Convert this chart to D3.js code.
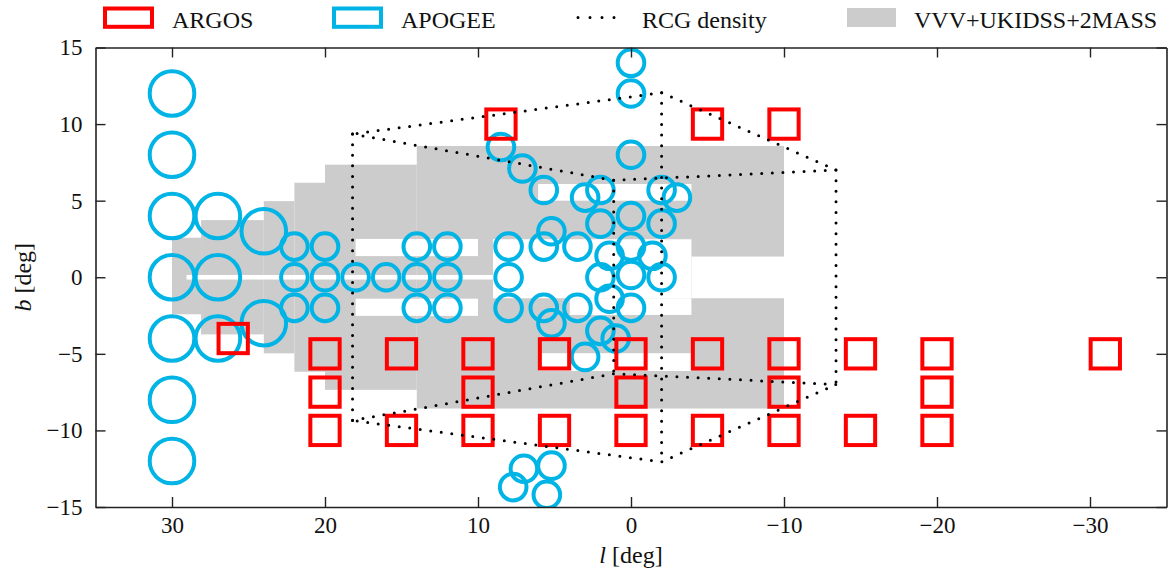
<!DOCTYPE html>
<html>
<head>
<meta charset="utf-8">
<script src="https://cdn.jsdelivr.net/npm/d3@7"></script>
<style>
  body { margin: 0; background: #fff; }
  svg { display: block; }
  text { font-family: "Liberation Serif", "Times New Roman", serif; fill: #111; }
</style>
</head>
<body>
<svg id="chart" width="1172" height="579"></svg>
<script>
// ---- Survey footprints in Galactic coordinates (l, b) in degrees ----

// ARGOS spectroscopic fields
const argosFields = [
  [8.5, 10], [-5, 10], [-10, 10],
  [26, -4],
  [20, -5], [15, -5], [10, -5], [5, -5], [0, -5], [-5, -5], [-10, -5], [-15, -5], [-20, -5], [-31, -5],
  [20, -7.5], [10, -7.5], [0, -7.5], [-10, -7.5], [-20, -7.5],
  [20, -10], [15, -10], [10, -10], [5, -10], [0, -10], [-5, -10], [-10, -10], [-15, -10], [-20, -10]
];

// APOGEE wide fields (outer disc)
const apogeeWideFields = [
  [30, 12], [30, 8], [30, 4], [30, 0], [30, -4], [30, -8], [30, -12],
  [27, 4], [27, 0], [27, -4],
  [24, 3], [24, -3]
];

// APOGEE bulge fields
const apogeeFields = [
  [22, 2], [22, 0], [22, -2], [20, 2], [20, 0], [20, -2], [18, 0], [16, 0],
  [14, 2], [14, 0], [14, -2], [12, 2], [12, 0], [12, -2],
  [8, 2], [8, 0], [8, -2],
  [8.5, 8.5], [7.1, 7.1], [5.7, 5.7],
  [5.7, 2], [5.7, -2], [5.2, 3], [5.2, -3], [3.5, 2], [3.5, -2],
  [3, 5.2], [3, -5.2], [2, 5.7], [2, 3.5], [2, 0], [2, -3.5],
  [1.4, 1.4], [1.4, -1.4], [1, -4],
  [0, 14], [0, 12], [0, 8], [0, 4], [0, 2], [0, 0.15], [0, -2],
  [-2, 5.7], [-3, 5.2], [-2, 3.5], [-1.4, 1.4], [-2, 0],
  [7, -12.5], [5.2, -12.3], [7.7, -13.7], [5.5, -14.2]
];

// Photometric coverage (VVV+UKIDSS+2MASS): [lFrom, lTo, bMin, bMax]
const coverageBlocks = [
  [30, 28.1, -2.42, 2.58],
  [28.1, 24, -3.73, 3.73],
  [24, 22, -4.97, 4.97],
  [22, 20, -6.17, 6.17],
  [20, 14, -7.35, 7.35],
  [14, -10, -8.57, 8.57]
];

// Areas inside the coverage without usable data: [lFrom, lTo, bMin, bMax]
const coverageGaps = [
  [29.05, 9.02, -0.15, 0.15],
  [18, 10, 1.38, 2.5],
  [18, 10, -2.52, -1.4],
  [9.02, -3.95, -1.37, 2.48],
  [4, -3.95, -2.46, -1.37],
  [-3.95, -10, -1.37, 1.35],
  [6.07, -3.95, 5.0, 6.09],
  [6.07, -3.95, -6.12, -4.96]
];

// Projected outline of the red-clump-giant density (bar) box
const rcgTopFace = [[18.2, 9.35], [1.13, 6.33], [-13.4, 7.0], [-2, 12.05]];
const rcgBottomFace = [[18.2, -9.35], [1.13, -6.3], [-13.4, -7.0], [-2, -12.05]];

// Axis ticks
const lTicks = [30, 20, 10, 0, -10, -20, -30];
const bTicks = [15, 10, 5, 0, -5, -10, -15];

// Legend entries
const legendItems = [
  { label: "ARGOS", kind: "argos" },
  { label: "APOGEE", kind: "apogee" },
  { label: "RCG density", kind: "rcg" },
  { label: "VVV+UKIDSS+2MASS", kind: "coverage" }
];

// ---- Drawing ----
const RED = "#ff0000";
const CYAN = "#00b4e6";
const GRAY = "#cccccc";
const AXIS = "#222";

const svg = d3.select("#chart");
const plot = { left: 95.5, right: 1166.5, top: 47.5, bottom: 507 };

const x = d3.scaleLinear().domain([35, -35]).range([plot.left, plot.right]);
const y = d3.scaleLinear().domain([-15, 15]).range([plot.bottom, plot.top]);

svg.append("defs").append("clipPath").attr("id", "plot-clip")
  .append("rect")
  .attr("x", plot.left).attr("y", plot.top)
  .attr("width", plot.right - plot.left).attr("height", plot.bottom - plot.top);

const g = svg.append("g").attr("clip-path", "url(#plot-clip)");

// coverage blocks
g.append("g").selectAll("rect").data(coverageBlocks).join("rect")
  .attr("x", d => x(d[0])).attr("width", d => x(d[1]) - x(d[0]))
  .attr("y", d => y(d[3])).attr("height", d => y(d[2]) - y(d[3]))
  .attr("fill", GRAY);

g.append("g").selectAll("rect").data(coverageGaps).join("rect")
  .attr("x", d => x(d[0])).attr("width", d => x(d[1]) - x(d[0]))
  .attr("y", d => y(d[3])).attr("height", d => y(d[2]) - y(d[3]))
  .attr("fill", "#fff");

// APOGEE circles
const rWide = 22.3, rSmall = 13.3;
g.append("g").selectAll("circle").data(apogeeWideFields).join("circle")
  .attr("cx", d => x(d[0])).attr("cy", d => y(d[1])).attr("r", rWide)
  .attr("fill", "none").attr("stroke", CYAN).attr("stroke-width", 4);
g.append("g").selectAll("circle").data(apogeeFields).join("circle")
  .attr("cx", d => x(d[0])).attr("cy", d => y(d[1])).attr("r", rSmall)
  .attr("fill", "none").attr("stroke", CYAN).attr("stroke-width", 4);

// ARGOS squares
const sq = 29.3;
g.append("g").selectAll("rect").data(argosFields).join("rect")
  .attr("x", d => x(d[0]) - sq / 2).attr("y", d => y(d[1]) - sq / 2)
  .attr("width", sq).attr("height", sq)
  .attr("fill", "none").attr("stroke", RED).attr("stroke-width", 4);

// RCG box outline (dotted)
const line = d3.line().x(d => x(d[0])).y(d => y(d[1]));
const rcgPaths = [
  rcgTopFace.concat([rcgTopFace[0]]),
  rcgBottomFace.concat([rcgBottomFace[0]]),
  ...rcgTopFace.map((p, i) => [p, rcgBottomFace[i]])
];
g.append("g").selectAll("path").data(rcgPaths).join("path")
  .attr("d", line)
  .attr("fill", "none").attr("stroke", "#000").attr("stroke-width", 3)
  .attr("stroke-linecap", "round").attr("stroke-dasharray", "0 10.6");

// ---- Axes (inward ticks on all four sides) ----
const fmt = d3.format("d");
function styleAxis(sel) {
  sel.selectAll(".domain").attr("stroke", AXIS).attr("stroke-width", 1.6);
  sel.selectAll(".tick line").attr("stroke", AXIS).attr("stroke-width", 1.4);
  sel.selectAll(".tick text").attr("font-size", 23)
    .attr("font-family", '"Liberation Serif", "Times New Roman", serif').attr("fill", "#111");
}

svg.append("g").attr("transform", `translate(0,${plot.bottom})`)
  .call(d3.axisBottom(x).tickValues(lTicks).tickFormat(fmt).tickSizeInner(-10).tickSizeOuter(0).tickPadding(10))
  .call(styleAxis);
svg.append("g").attr("transform", `translate(0,${plot.top})`)
  .call(d3.axisTop(x).tickValues(lTicks).tickFormat("").tickSizeInner(-10).tickSizeOuter(0))
  .call(styleAxis);
svg.append("g").attr("transform", `translate(${plot.left},0)`)
  .call(d3.axisLeft(y).tickValues(bTicks).tickFormat(fmt).tickSizeInner(-10).tickSizeOuter(0).tickPadding(13))
  .call(styleAxis);
svg.append("g").attr("transform", `translate(${plot.right},0)`)
  .call(d3.axisRight(y).tickValues(bTicks).tickFormat("").tickSizeInner(-10).tickSizeOuter(0))
  .call(styleAxis);

// Axis labels
const xLab = svg.append("text")
  .attr("x", (plot.left + plot.right) / 2).attr("y", 563)
  .attr("text-anchor", "middle").attr("font-size", 24);
xLab.append("tspan").attr("font-style", "italic").text("l");
xLab.append("tspan").text(" [deg]");

const yLab = svg.append("text")
  .attr("transform", `translate(31,${(plot.top + plot.bottom) / 2}) rotate(-90)`)
  .attr("text-anchor", "middle").attr("font-size", 24);
yLab.append("tspan").attr("font-style", "italic").text("b");
yLab.append("tspan").text(" [deg]");

// ---- Legend ----
const legendX = [103, 332, 576, 847];
const legend = svg.append("g");
legendItems.forEach((item, i) => {
  const gx = legendX[i];
  const lg = legend.append("g").attr("transform", `translate(${gx},0)`);
  if (item.kind === "argos" || item.kind === "apogee") {
    lg.append("rect").attr("x", 2).attr("y", 8.5).attr("width", 47).attr("height", 18.3)
      .attr("fill", "none").attr("stroke", item.kind === "argos" ? RED : CYAN).attr("stroke-width", 4);
  } else if (item.kind === "rcg") {
    lg.append("line").attr("x1", 2).attr("x2", 40).attr("y1", 17.5).attr("y2", 17.5)
      .attr("stroke", "#000").attr("stroke-width", 3).attr("stroke-linecap", "round")
      .attr("stroke-dasharray", "0 12");
  } else {
    lg.append("rect").attr("x", 0).attr("y", 8).attr("width", 49).attr("height", 19).attr("fill", GRAY);
  }
  const textX = item.kind === "rcg" ? 66 : (item.kind === "coverage" ? 67 : 69);
  lg.append("text").attr("x", textX).attr("y", 27.5).attr("font-size", 24).text(item.label);
});
</script>
</body>
</html>
